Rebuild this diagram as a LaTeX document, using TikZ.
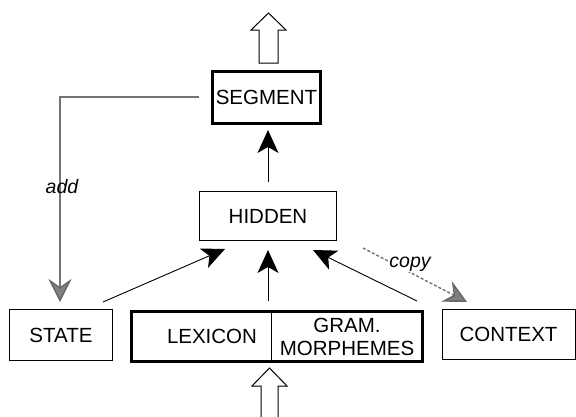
\documentclass[tikz,border=0pt]{standalone}
\usepackage{fontspec}
\setmainfont{Liberation Sans}
\usetikzlibrary{arrows.meta}
\begin{document}
\begin{tikzpicture}[x=1pt,y=-1pt,
  txt/.style={font=\fontsize{20.5}{24}\selectfont, inner sep=0pt},
  thinbox/.style={draw, line width=0.9pt, inner sep=0pt, font=\fontsize{20.5}{24}\selectfont},
  thickbox/.style={draw, line width=3pt, inner sep=0pt, font=\fontsize{20.5}{24}\selectfont},
  blk/.style={line width=0.9pt, -{Stealth[length=23pt, width=21pt, inset=6pt]}},
  grayarr/.style={line width=1.4pt, draw=black!55, -{Stealth[length=23pt, width=23pt, inset=8pt, fill=black!50, color=black!60]}},
  lbl/.style={font=\fontsize{19.5}{22}\selectfont\itshape, inner sep=1pt},
  hollow/.style={line width=1pt, line join=miter}
]
\useasboundingbox (0,0) rectangle (576,416);

% boxes
\node[thickbox, minimum width=108pt, minimum height=52pt] (seg) at (266.5,97.5) {SEGMENT};
\node[thinbox, minimum width=137pt, minimum height=49pt] (hid) at (268,216) {HIDDEN};
\node[thinbox, minimum width=103pt, minimum height=51pt] (state) at (61,335) {STATE};
\node[thickbox, minimum width=291pt, minimum height=50pt] (lexbox) at (277,336.5) {};
\draw[line width=1pt] ([xshift=-6pt]lexbox.north) -- ([xshift=-6pt]lexbox.south);
\node[txt] (lex) at (212,336) {LEXICON};
\node[txt, align=center] (gram) at (347,337) {GRAM.\\[-1pt]MORPHEMES};
\node[thinbox, minimum width=133pt, minimum height=50pt] (ctx) at (508.5,334) {CONTEXT};

% black arrows
\coordinate (hs) at (268,182); \coordinate (he) at (268,130);
\draw[blk] (hs) -- (he);
\coordinate (a1s) at (103,302); \coordinate (a1e) at (225,249);
\draw[blk] (a1s) -- (a1e);
\coordinate (a2s) at (268,301); \coordinate (a2e) at (268,250);
\draw[blk] (a2s) -- (a2e);
\coordinate (a3s) at (417,301); \coordinate (a3e) at (313,250);
\draw[blk] (a3s) -- (a3e);

% gray arrows
\coordinate (adds) at (199,97); \coordinate (addc) at (60,97); \coordinate (adde) at (60,302);
\draw[grayarr] (adds) -- (addc) -- (adde);
\node[lbl] (addl) at (62,187) {add};
\coordinate (cps) at (363,248); \coordinate (cpe) at (467,302);
\draw[grayarr, densely dashed] (cps) -- (cpe);
\node[lbl, fill=white] (cpl) at (410,264) {copy};

% hollow arrows
\draw[hollow] (259,63) -- (259,30) -- (251,30) -- (268.5,13) -- (286,30) -- (278,30) -- (278,63) -- cycle;
\draw[hollow] (261,417) -- (261,386) -- (252,386) -- (269.5,368) -- (287,386) -- (278,386) -- (278,417);
\end{tikzpicture}
\end{document}
